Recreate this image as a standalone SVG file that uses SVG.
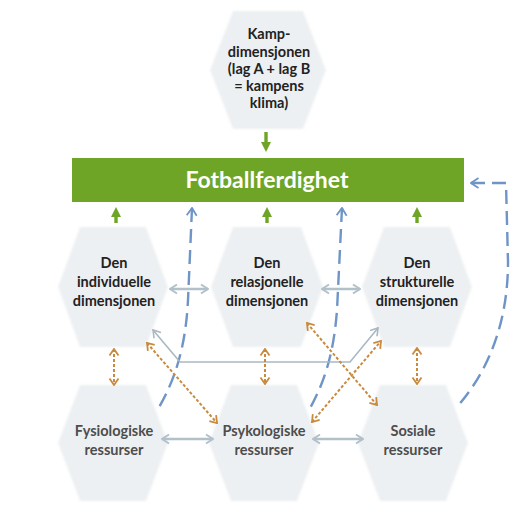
<svg xmlns="http://www.w3.org/2000/svg" width="515" height="509" viewBox="0 0 515 509">
  <style>
    .hex { fill: #edf0f2; stroke: none; filter: url(#soft); }
    .lbl { font-family: Lato, "Liberation Sans", Arial, sans-serif; font-weight: 700; font-size: 14.5px; text-anchor: middle; fill: #222222; }
    .res { fill: #4d4d4d; }
    .title { font-family: Lato, "Liberation Sans", Arial, sans-serif; font-weight: 700; font-size: 23px; text-anchor: middle; fill: #ffffff; }
    .green { stroke: #6fa527; stroke-width: 3.4; fill: none; marker-end: url(#headGreen); }
    .blue { stroke: #6e95c6; stroke-width: 2.4; fill: none; stroke-dasharray: 14 7; marker-start: url(#headBlue); }
    .orange { stroke: #c98a3e; stroke-width: 2; fill: none; stroke-dasharray: 3 2; marker-start: url(#headOrange); marker-end: url(#headOrange); }
    .grey { stroke: #b2c0ca; stroke-width: 2.6; fill: none; marker-start: url(#headGrey); marker-end: url(#headGrey); }
    .greyLine { stroke: #a9b8c3; stroke-width: 1.6; fill: none; marker-start: url(#headGreyThin); marker-end: url(#headGreyThin); }
  </style>
  <defs>
    <filter id="soft" x="-5%" y="-5%" width="110%" height="110%">
      <feGaussianBlur stdDeviation="1.2"/>
    </filter>
    <marker id="headGreen" viewBox="0 0 10 10" refX="3" refY="5" markerWidth="10" markerHeight="10" markerUnits="userSpaceOnUse" orient="auto">
      <path d="M0,0 L10,5 L0,10 z" fill="#6fa527"/>
    </marker>
    <marker id="headBlue" viewBox="-9 -6 10 12" refX="0" refY="0" markerWidth="10" markerHeight="12" markerUnits="userSpaceOnUse" orient="auto-start-reverse">
      <path d="M-7.5,-5 L0,0 L-7.5,5" fill="none" stroke="#6e95c6" stroke-width="1.8"/>
    </marker>
    <marker id="headOrange" viewBox="-9 -6 10 12" refX="0" refY="0" markerWidth="10" markerHeight="12" markerUnits="userSpaceOnUse" orient="auto-start-reverse">
      <path d="M-6.5,-4.5 L0,0 L-6.5,4.5" fill="none" stroke="#c98a3e" stroke-width="1.8"/>
    </marker>
    <marker id="headGrey" viewBox="-9 -6 10 12" refX="0" refY="0" markerWidth="10" markerHeight="12" markerUnits="userSpaceOnUse" orient="auto-start-reverse">
      <path d="M-7,-4.5 L0,0 L-7,4.5" fill="none" stroke="#b2c0ca" stroke-width="2"/>
    </marker>
    <marker id="headGreyThin" viewBox="-9 -6 10 12" refX="0" refY="0" markerWidth="10" markerHeight="12" markerUnits="userSpaceOnUse" orient="auto-start-reverse">
      <path d="M-7,-4.5 L0,0 L-7,4.5" fill="none" stroke="#a9b8c3" stroke-width="1.6"/>
    </marker>
  </defs>

  <rect width="515" height="509" fill="#ffffff"/>

  <!-- top: match dimension -->
  <g id="kampdimensjonen">
    <polygon class="hex" points="210,70 233,11 303,11 326,70 303,129 233,129"/>
    <text class="lbl" x="269" y="39">Kamp-</text>
    <text class="lbl" x="269" y="57">dimensjonen</text>
    <text class="lbl" x="269" y="74">(lag A + lag B</text>
    <text class="lbl" x="269" y="91">= kampens</text>
    <text class="lbl" x="269" y="108">klima)</text>
  </g>

  <!-- central outcome bar -->
  <g id="fotballferdighet">
    <rect x="72" y="158" width="392" height="44" fill="#6fa527"/>
    <text class="title" x="267" y="188">Fotballferdighet</text>
  </g>

  <!-- middle row: dimensions -->
  <g id="individuell">
    <polygon class="hex" points="58,287 80,227 146,227 168,287 146,347 80,347"/>
    <text class="lbl" x="114" y="268">Den</text>
    <text class="lbl" x="114" y="287">individuelle</text>
    <text class="lbl" x="114" y="306">dimensjonen</text>
  </g>
  <g id="relasjonell">
    <polygon class="hex" points="211,287 233,227 301,227 323,287 301,347 233,347"/>
    <text class="lbl" x="267" y="268">Den</text>
    <text class="lbl" x="267" y="287">relasjonelle</text>
    <text class="lbl" x="267" y="306">dimensjonen</text>
  </g>
  <g id="strukturell">
    <polygon class="hex" points="362,287 384,227 450,227 472,287 450,347 384,347"/>
    <text class="lbl" x="417" y="268">Den</text>
    <text class="lbl" x="417" y="287">strukturelle</text>
    <text class="lbl" x="417" y="306">dimensjonen</text>
  </g>

  <!-- bottom row: resources -->
  <g id="fysiologiske">
    <polygon class="hex" points="58,443 80,385 146,385 168,443 146,501 80,501"/>
    <text class="lbl res" x="114" y="436">Fysiologiske</text>
    <text class="lbl res" x="114" y="455">ressurser</text>
  </g>
  <g id="psykologiske">
    <polygon class="hex" points="209,443 231,385 297,385 319,443 297,501 231,501"/>
    <text class="lbl res" x="264" y="436">Psykologiske</text>
    <text class="lbl res" x="264" y="455">ressurser</text>
  </g>
  <g id="sosiale">
    <polygon class="hex" points="358,443 380,385 446,385 468,443 446,501 380,501"/>
    <text class="lbl res" x="413" y="436">Sosiale</text>
    <text class="lbl res" x="413" y="455">ressurser</text>
  </g>

  <g id="connectors">
    <!-- green influence arrows -->
    <line class="green" x1="266" y1="132" x2="266" y2="145"/>
    <line class="green" x1="116" y1="223" x2="116" y2="214"/>
    <line class="green" x1="267" y1="223" x2="267" y2="214"/>
    <line class="green" x1="417" y1="223" x2="417" y2="214"/>

    <!-- blue dashed feedback from resources -->
    <path class="blue" d="M192,208 L188,300 C186,340 178,375 158,409"/>
    <path class="blue" d="M342,208 L337,310 C334,350 326,380 309,410"/>
    <path class="blue" d="M471,183 L506,183 L508,262 C508,320 490,370 456,408"/>

    <!-- grey links between dimensions -->
    <line class="grey" x1="170" y1="289" x2="208" y2="289"/>
    <line class="grey" x1="322" y1="289" x2="360" y2="289"/>
    <polyline class="greyLine" points="153,330 180,362 350,362 378,328"/>

    <!-- grey links between resources -->
    <line class="grey" x1="162" y1="439" x2="213" y2="439"/>
    <line class="grey" x1="313" y1="439" x2="363" y2="439"/>

    <!-- orange dotted links dimension <-> resource -->
    <line class="orange" x1="114" y1="349" x2="114" y2="385"/>
    <line class="orange" x1="265" y1="349" x2="265" y2="384"/>
    <line class="orange" x1="417" y1="348" x2="417" y2="384"/>
    <line class="orange" x1="147" y1="343" x2="217" y2="423"/>
    <line class="orange" x1="307" y1="323" x2="377" y2="405"/>
    <line class="orange" x1="312" y1="422" x2="381" y2="341"/>
  </g>
</svg>
